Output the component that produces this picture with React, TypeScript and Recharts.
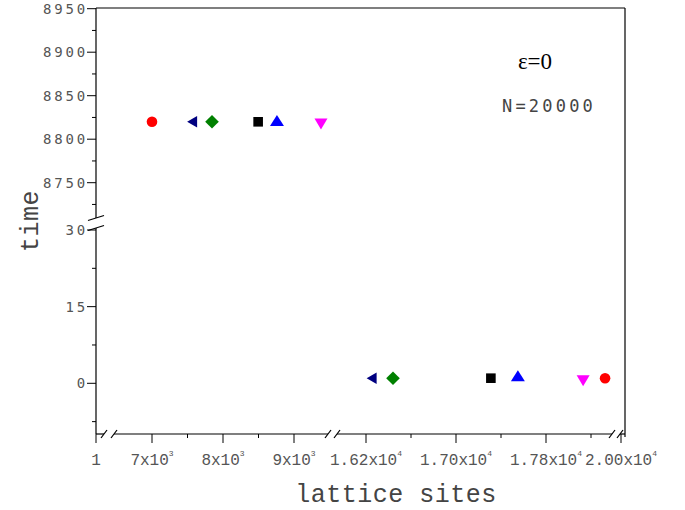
import { ScatterChart, Scatter, XAxis, YAxis, ReferenceLine } from "recharts"

// marker style per series, in legend-less order
const shapes = ["circle", "left", "diamond", "square", "up", "down"]
const colors = ["#ff0000", "#000080", "#008000", "#000000", "#0000ff", "#ff00ff"]

// upper block: small lattices, time ~ 8820
const topSites = [7000, 7565, 7845, 8495, 8760, 9380]
const topTimes = [8820, 8820, 8820, 8820, 8821, 8818]

// lower block: large lattices, time ~ 1
const bottomSites = [18325, 16250, 16440, 17310, 17550, 18130]
const bottomTimes = [1, 1, 1, 1, 1.4, 0.6]

const xMajor = [1, 7000, 8000, 9000, 16200, 17000, 17800, 20000]
const xLabels = ["1", "7x10^3", "8x10^3", "9x10^3", "1.62x10^4", "1.70x10^4", "1.78x10^4", "2.00x10^4"]
const xMinor = [7500, 8500, 16600, 17400, 18200]

const yMajor = [8950, 8900, 8850, 8800, 8750, 30, 15, 0]
const yLabels = ["8950", "8900", "8850", "8800", "8750", "30", "15", "0"]
const yMinor = [8925, 8875, 8825, 8775, 8725, 22.5, 7.5, -7.5]

// broken axes: values are mapped piecewise onto a plain linear axis
const bx = (v: number) =>
  v < 100 ? 0 : v < 12000 ? 56 + (v - 7000) * 0.071 : v < 19000 ? 270 + (v - 16200) * 0.1125 : 525 + (v - 20000) * 0.1
const by = (v: number) => (v > 1000 ? 425.3 - (8950 - v) * 0.87 : 50.7 + v * 5.11)

const X_MAX = 529
const Y_MAX = 426
const xGaps = [
  [8, 18],
  [232, 241],
  [516, 524],
]
const yGap = [206, 216]

const xTicks = [...xMajor.map((v, i) => ({ pos: bx(v), label: xLabels[i] })), ...xMinor.map((v) => ({ pos: bx(v), label: "" }))]
const yTicks = [...yMajor.map((v, i) => ({ pos: by(v), label: yLabels[i] })), ...yMinor.map((v) => ({ pos: by(v), label: "" }))]

const series = shapes.map((shape, i) => ({
  shape,
  color: colors[i],
  data: [
    { x: bx(topSites[i]), y: by(topTimes[i]) },
    { x: bx(bottomSites[i]), y: by(bottomTimes[i]) },
  ],
}))

const find = (list: { pos: number; label: string }[], v: number) => list.find((t) => Math.abs(t.pos - v) < 1e-6)

function XTick(props: any) {
  const { x, y, payload } = props
  const t = find(xTicks, payload.value)
  if (!t) return null
  const [base, exp] = t.label.split("^")
  return (
    <g>
      <line x1={x} x2={x} y1={y} y2={y + (t.label ? 9 : 4)} stroke="#000" />
      {t.label && (
        <text x={x} y={y + 31} textAnchor="middle" fontFamily="Liberation Mono" fontSize={16} fill="#555">
          {base}
          {exp && (
            <tspan dy={-9} fontSize={8}>
              {exp}
            </tspan>
          )}
        </text>
      )}
    </g>
  )
}

function YTick(props: any) {
  const { x, y, payload } = props
  const t = find(yTicks, payload.value)
  if (!t) return null
  return (
    <g>
      <line x1={x - (t.label ? 9 : 4)} x2={x} y1={y} y2={y} stroke="#000" />
      {t.label && (
        <text x={x - 8} y={y + 5} textAnchor="end" fontFamily="DejaVu Sans Mono" fontSize={14} letterSpacing={2.8} fill="#555">
          {t.label}
        </text>
      )}
    </g>
  )
}

function Marker(props: any) {
  const { cx, cy, shape, color } = props
  switch (shape) {
    case "circle":
      return <circle cx={cx} cy={cy} r={5.3} fill={color} />
    case "left":
      return <polygon points={`${cx - 5},${cy} ${cx + 5},${cy - 5.8} ${cx + 5},${cy + 5.8}`} fill={color} />
    case "diamond":
      return <polygon points={`${cx},${cy - 6.8} ${cx + 6.8},${cy} ${cx},${cy + 6.8} ${cx - 6.8},${cy}`} fill={color} />
    case "square":
      return <rect x={cx - 4.8} y={cy - 4.8} width={9.6} height={9.6} fill={color} />
    case "up":
      return <polygon points={`${cx},${cy - 6} ${cx + 7},${cy + 5} ${cx - 7},${cy + 5}`} fill={color} />
    default:
      return <polygon points={`${cx - 6.5},${cy - 5} ${cx + 6.5},${cy - 5} ${cx},${cy + 6}`} fill={color} />
  }
}

const seg = (x1: number, y1: number, x2: number, y2: number, key: string) => (
  <ReferenceLine
    key={key}
    segment={[
      { x: x1, y: y1 },
      { x: x2, y: y2 },
    ]}
    stroke="#000"
    strokeWidth={1.2}
    ifOverflow="visible"
  />
)

export default function App() {
  // bottom axis pieces between the breaks
  const xEdges = [0, ...xGaps.flat(), X_MAX]
  const bottomLines = []
  for (let i = 0; i < xEdges.length; i += 2) bottomLines.push(seg(xEdges[i], 0, xEdges[i + 1], 0, "b" + i))
  const xSlashes = xGaps.flatMap(([a, b], i) => [seg(a - 3, -4, a + 3, 4, "sa" + i), seg(b - 3, -4, b + 3, 4, "sb" + i)])

  return (
    <div style={{ position: "absolute", left: 0, top: 0, width: 685, height: 510, background: "#fff" }}>
      <ScatterChart width={685} height={510} margin={{ top: 8, right: 60, bottom: 0, left: 0 }}>
        <XAxis
          type="number"
          dataKey="x"
          domain={[0, X_MAX]}
          ticks={xTicks.map((t) => t.pos)}
          interval={0}
          height={76}
          axisLine={false}
          tickLine={false}
          tickSize={0}
          tickMargin={0}
          tick={<XTick />}
        />
        <YAxis
          type="number"
          dataKey="y"
          domain={[0, Y_MAX]}
          ticks={yTicks.map((t) => t.pos)}
          interval={0}
          width={96}
          axisLine={false}
          tickLine={false}
          tickSize={0}
          tickMargin={0}
          tick={<YTick />}
        />
        {bottomLines}
        {xSlashes}
        {seg(0, 0, 0, yGap[0], "l1")}
        {seg(0, yGap[1], 0, Y_MAX, "l2")}
        {seg(-8, yGap[0] - 2.5, 8, yGap[0] + 2.5, "ys1")}
        {seg(-8, yGap[1] - 2.5, 8, yGap[1] + 2.5, "ys2")}
        {seg(0, Y_MAX, X_MAX, Y_MAX, "top")}
        {seg(X_MAX, -3, X_MAX, Y_MAX, "right")}
        {series.map((s) => (
          <Scatter
            key={s.shape}
            data={s.data}
            isAnimationActive={false}
            shape={(p: any) => <Marker {...p} shape={s.shape} color={s.color} />}
          />
        ))}
        <text x={396} y={502} textAnchor="middle" fontFamily="Liberation Mono" fontSize={25} letterSpacing={0.5} fill="#444">
          lattice sites
        </text>
        <text
          x={38}
          y={221}
          transform="rotate(-90, 38, 221)"
          textAnchor="middle"
          fontFamily="Liberation Mono"
          fontSize={25}
          letterSpacing={0.5}
          fill="#444"
        >
          time
        </text>
        <text x={535} y={69} textAnchor="middle" fontFamily="Liberation Serif" fontSize={23} fill="#000">
          ε=0
        </text>
        <text x={502} y={112} fontFamily="DejaVu Sans Mono" fontSize={17} letterSpacing={3.2} fill="#444">
          N=20000
        </text>
      </ScatterChart>
    </div>
  )
}
